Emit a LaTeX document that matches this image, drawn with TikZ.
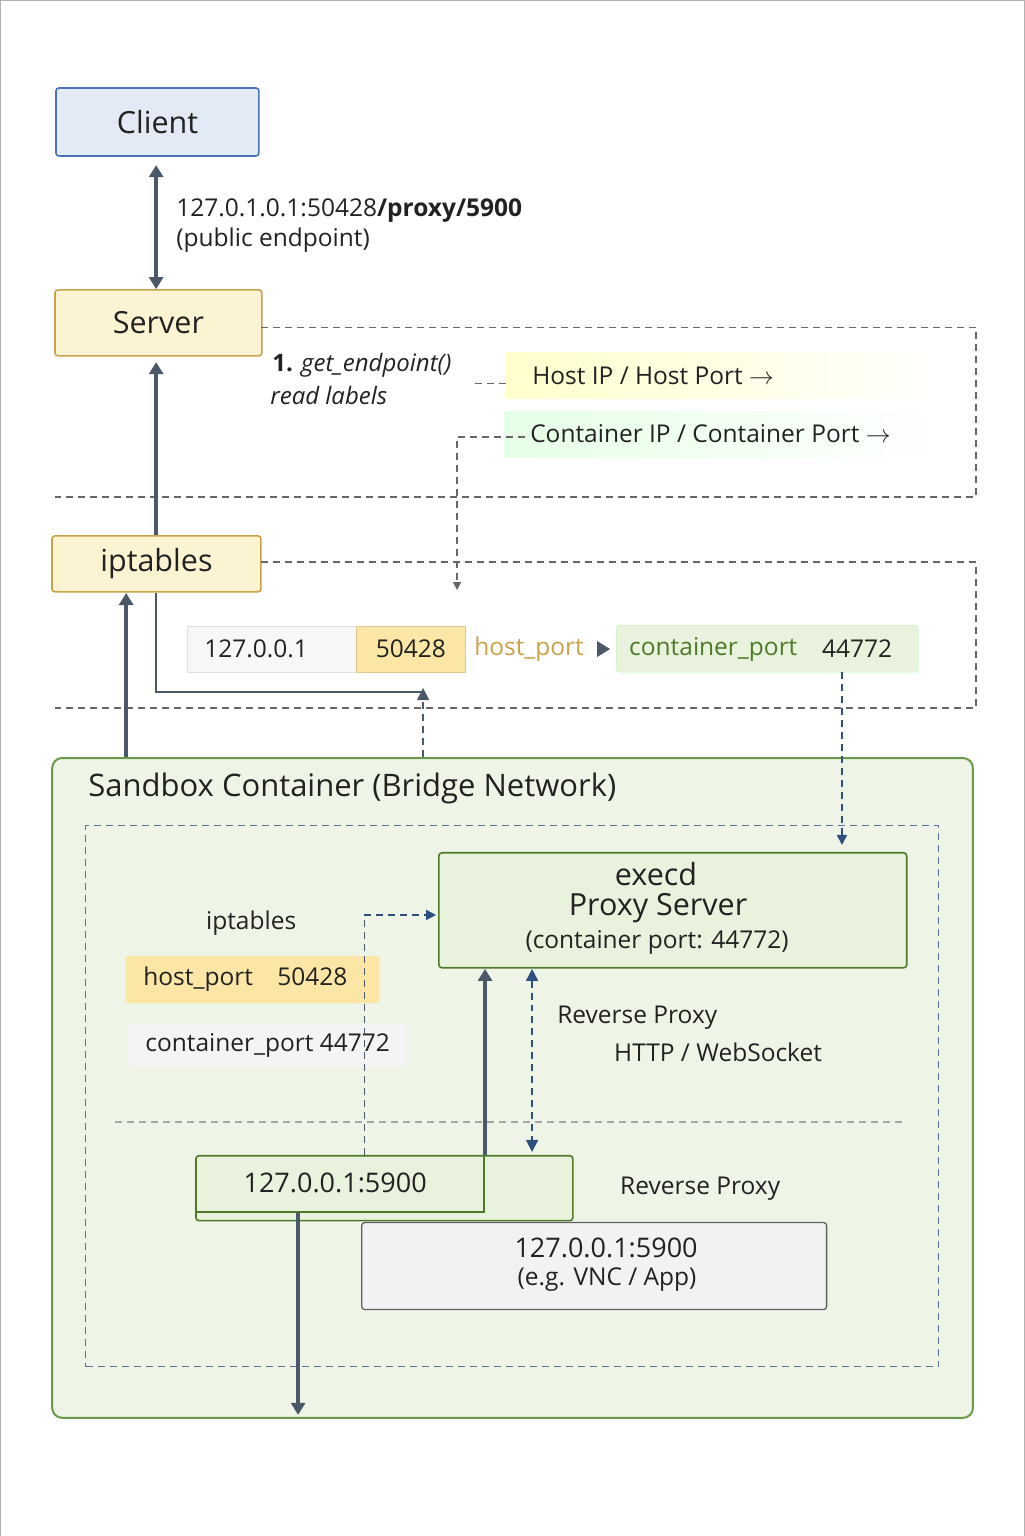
\documentclass[tikz,border=0pt]{standalone}
\usepackage{fontspec}
\setmainfont{Open Sans}
\usetikzlibrary{arrows.meta,positioning}
\definecolor{arr}{HTML}{4A5868}
\definecolor{txt}{HTML}{222222}
\definecolor{yfill}{HTML}{FCF3D2}
\definecolor{ydraw}{HTML}{C9A24A}
\definecolor{gfill}{HTML}{E8F2DC}
\definecolor{gdraw}{HTML}{4F7A2A}
\definecolor{dblue}{HTML}{2F4F7F}
\definecolor{cfill}{HTML}{E3EAF5}
\definecolor{cdraw}{HTML}{4A74B5}
\definecolor{sbfill}{HTML}{EEF5E6}
\definecolor{sbdraw}{HTML}{6B9A4A}
\definecolor{yy}{HTML}{FCE6A6}
\tikzset{
 box/.style={draw,line width=1.6pt,rounded corners=3pt,inner sep=0pt},
 ybox/.style={box,fill=yfill,draw=ydraw},
 gbox/.style={box,fill=gfill,draw=gdraw},
 solidarr/.style={draw=arr,line width=3.5pt,-{Triangle[length=12pt,width=14pt]}},
 gdash/.style={draw=gray!80!black,dash pattern=on 7pt off 5pt,line width=1.2pt},
 bdash/.style={draw=dblue,dash pattern=on 7pt off 5pt,line width=1.8pt},
 lbl/.style={font=\fontsize{24.5}{28}\selectfont,anchor=west,inner sep=0pt},
 big/.style={font=\fontsize{30.5}{36}\selectfont},
}
\begin{document}
\begin{tikzpicture}[x=1pt,y=-1pt,every node/.append style={text=txt}]
\path[use as bounding box,draw=gray!60,fill=white] (0,0) rectangle (1024,1536);
% Client
\node[box,fill=cfill,draw=cdraw,minimum width=203pt,minimum height=68pt,anchor=north west,big] (client) at (55,87) {Client};
\node[ybox,minimum width=207pt,minimum height=66pt,anchor=north west,big] (server) at (54,289) {Server};
\draw[draw=arr,line width=3.5pt,{Triangle[length=12pt,width=14pt]}-{Triangle[length=12pt,width=14pt]}] (156,165) -- (server.north -| 156,0);
\node[lbl] (pub) at (176,210) {127.0.1.0.1:50428\textbf{/proxy/5900}};
\node[lbl] (pub2) at (176,240) {(public endpoint)};
% top dashed region
\draw[gdash] (261,327) -- (976,327) -- (976,497) -- (55,497);
\node[lbl,font=\fontsize{24}{28}\selectfont\itshape] (ge) at (272,365) {\textbf{\upshape 1.} get\_endpoint()};
\node[lbl,font=\fontsize{24}{28}\selectfont\itshape] (rl) at (270,395) {read labels};
\coordinate (g1) at (475,383); \coordinate (g2) at (525,383);
\draw[gdash] (g1) -- (g2);
\shade[left color=yellow!20,right color=white] (506,352) rectangle (945,398);
\node[lbl] (hip) at (532,376) {Host IP / Host Port $\rightarrow$};
\shade[left color=green!10,right color=white] (504,411) rectangle (945,457);
\node[lbl] (cip) at (530,434) {Container IP / Container Port $\rightarrow$};
\coordinate (c1) at (525,437); \coordinate (c2) at (457,437); \coordinate (c3) at (457,590);
\draw[gdash,-{Triangle[length=8pt,width=8pt]}] (c1) -- (c2) -- (c3);
% iptables
\node[ybox,minimum width=209pt,minimum height=56pt,anchor=north west,big] (ipt) at (51,535) {iptables};
\draw[solidarr] (ipt.north -| 156,0) -- (156,362);
\draw[gdash] (261,562) -- (976,562) -- (976,708) -- (55,708);
% row
\node[draw=gray!25,fill=gray!6,minimum width=169pt,minimum height=46pt,anchor=north west,inner sep=0pt] (r1) at (187,626) {};
\node[lbl] at (204,649) {127.0.0.1};
\node[fill=yy,draw=ydraw!60,minimum width=109pt,minimum height=46pt,anchor=north west,inner sep=0pt,font=\fontsize{24.5}{28}\selectfont] (r2) at (356,626) {50428};
\node[lbl,text=ydraw] (hp) at (474,649) {host\_port};
\fill[arr] (597,641) -- (610,649) -- (597,657) -- cycle;
\node[fill=gfill,draw=green!30,rounded corners=3pt,minimum width=302pt,minimum height=47pt,anchor=north west,inner sep=0pt] (r3) at (616,625) {};
\node[lbl,text=gdraw] at (629,649) {container\_port};
\node[lbl] at (822,649) {44772};
\coordinate (j1) at (156,692); \coordinate (j2) at (425,692);
\draw[draw=arr,line width=2.5pt] (ipt.south -| j1) -- (j1) -- (j2);
\coordinate (d1) at (423,757); \coordinate (d2) at (423,688);
\coordinate (u1) at (126,757); \coordinate (u2) at (126,593);
% sandbox
\node[draw=sbdraw,fill=sbfill,line width=2pt,rounded corners=10pt,minimum width=921pt,minimum height=660pt,anchor=north west] (sb) at (51,757) {};
\draw[gdash,-{Triangle[length=12pt,width=12pt]},arr] (d1) -- (d2);
\draw[solidarr] (u1) -- (u2);
\node[lbl,font=\fontsize{31}{36}\selectfont] (sbt) at (88,788) {Sandbox Container (Bridge Network)};
\node[draw=dblue!80,dash pattern=on 7pt off 5pt,line width=1.3pt,minimum width=853pt,minimum height=541pt,anchor=north west] (inner) at (85,825) {};
\coordinate (b1) at (842,672); \coordinate (b2) at (842,845);
\draw[bdash,-{Triangle[length=10pt,width=10pt]}] (b1) -- (b2);
\node[gbox,minimum width=468pt,minimum height=115pt,anchor=north west] (execd) at (438,852) {};
\node[big] at (656,874) {execd};
\node[big] at (658,908) {Proxy Server};
\node[font=\fontsize{24.5}{28}\selectfont] at (657,942) {(container port: 44772)};
\node[font=\fontsize{24.5}{28}\selectfont] (it2) at (251,923) {iptables};
\node[fill=yy,rounded corners=3pt,minimum width=254pt,minimum height=47pt,anchor=north west] (hp2) at (125,956) {};
\node[lbl] at (143,979) {host\_port\quad 50428};
\node[fill=gray!9,rounded corners=3pt,minimum width=279pt,minimum height=43pt,anchor=north west] (cp2) at (128,1024) {};
\node[lbl] at (145,1046) {container\_port 44772};
\draw[gdash,gray!70] (115,1122) -- (905,1122);
% 5900 box
\node[gbox,minimum width=377pt,minimum height=65pt,anchor=north west] (lb) at (195,1155) {};
\draw[gdraw,line width=1.4pt] (484,1155) -- (484,1212) -- (195,1212);
\node[font=\fontsize{27}{32}\selectfont] (lbt) at (335,1183) {127.0.0.1:5900};
\coordinate (e1) at (364,1155); \coordinate (e2) at (364,915); \coordinate (e3) at (436,915);
\draw[gdash,arr] (e1) -- (e2);
\draw[bdash,-{Triangle[length=10pt,width=10pt]}] (e2) -- (e3);
\coordinate (f1) at (485,1155); \coordinate (f2) at (485,969);
\draw[solidarr] (f1) -- (f2);
\coordinate (h1) at (532,969); \coordinate (h2) at (532,1152);
\draw[bdash,{Triangle[length=12pt,width=12pt]}-{Triangle[length=12pt,width=12pt]}] (h1) -- (h2);
\node[lbl] at (557,1018) {Reverse Proxy};
\node[lbl] at (614,1052) {HTTP / WebSocket};
\node[lbl] at (620,1189) {Reverse Proxy};
\node[draw=gray!75!black,fill=gray!10,line width=1.3pt,rounded corners=3pt,minimum width=465pt,minimum height=87pt,anchor=north west] (vnc) at (361,1222) {};
\node[font=\fontsize{27}{32}\selectfont] at (606,1248) {127.0.0.1:5900};
\node[font=\fontsize{24.5}{28}\selectfont] at (607,1280) {(e.g. VNC / App)};
\coordinate (k1) at (298,1212); \coordinate (k2) at (298,1415);
\draw[solidarr] (k1) -- (k2);
\end{tikzpicture}
\end{document}
